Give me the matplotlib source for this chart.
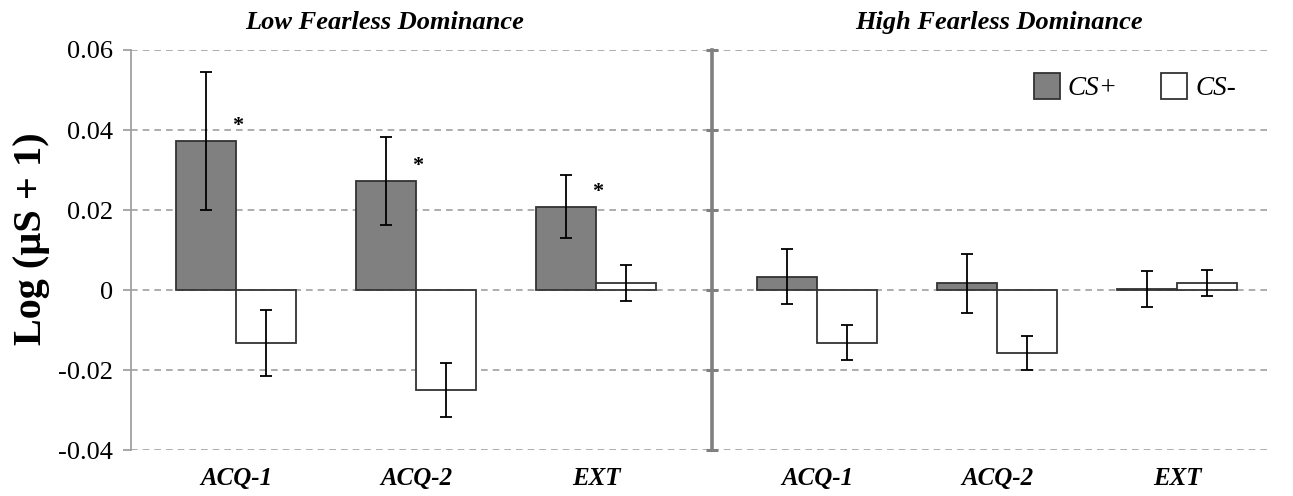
import matplotlib
matplotlib.use("Agg")
import matplotlib.pyplot as plt
from matplotlib.patches import Patch
import numpy as np

plt.rcParams['font.family'] = ['Liberation Serif', 'DejaVu Serif']

# Data
categories = ['ACQ-1', 'ACQ-2', 'EXT']
low_cs_plus = [0.0373, 0.0273, 0.0208]
low_cs_plus_err = [0.0172, 0.0110, 0.0079]
low_cs_minus = [-0.0132, -0.0250, 0.0017]
low_cs_minus_err = [0.0083, 0.0068, 0.0045]
high_cs_plus = [0.0033, 0.0017, 0.0002]
high_cs_plus_err = [0.0069, 0.0074, 0.0045]
high_cs_minus = [-0.0132, -0.0158, 0.0017]
high_cs_minus_err = [0.0044, 0.0043, 0.0032]
low_signif = [True, True, True]
y_ticks = [-0.04, -0.02, 0, 0.02, 0.04, 0.06]
y_tick_labels = ['-0.04', '-0.02', '0', '0.02', '0.04', '0.06']

fig = plt.figure(figsize=(12.93, 4.96), dpi=100)
ax1 = fig.add_axes([131 / 1293, 0.0927, 581 / 1293, 0.8065])
ax2 = fig.add_axes([712 / 1293, 0.0927, 555 / 1293, 0.8065])

grey = '#808080'
edge = '#333333'
grid_col = '#a0a0a0'
bar_w = 0.335


def draw_panel(ax, plus, plus_err, minus, minus_err, xlim):
    x = np.arange(len(categories))
    ax.bar(x - bar_w / 2, plus, bar_w, color=grey, edgecolor=edge, linewidth=1.3, zorder=3)
    ax.bar(x + bar_w / 2, minus, bar_w, color='white', edgecolor=edge, linewidth=1.3, zorder=3)
    ax.errorbar(x - bar_w / 2, plus, yerr=plus_err, fmt='none', ecolor='black',
                elinewidth=1.3, capsize=4.5, capthick=1.3, zorder=4)
    ax.errorbar(x + bar_w / 2, minus, yerr=minus_err, fmt='none', ecolor='black',
                elinewidth=1.3, capsize=4.5, capthick=1.3, zorder=4)
    ax.set_xlim(*xlim)
    ax.set_ylim(-0.04, 0.06)
    ax.set_yticks(y_ticks)
    for yv in y_ticks:
        ax.axhline(yv, color=grid_col, linestyle=(0, (4, 3)), linewidth=1.2, zorder=1)
    ax.set_xticks(x)
    ax.set_xticklabels(categories, fontsize=18, fontweight='bold', fontstyle='italic')
    ax.tick_params(axis='x', length=0, pad=12)
    for s in ['top', 'right', 'bottom']:
        ax.spines[s].set_visible(False)
    return x


x1 = draw_panel(ax1, low_cs_plus, low_cs_plus_err, low_cs_minus, low_cs_minus_err,
                (-0.583, 2.644))
x2 = draw_panel(ax2, high_cs_plus, high_cs_plus_err, high_cs_minus, high_cs_minus_err,
                (-0.583, 2.5))

ax1.set_yticklabels(y_tick_labels, fontsize=19)
ax1.spines['left'].set_color(grid_col)
ax1.spines['left'].set_linewidth(1.3)
ax1.tick_params(axis='y', length=6, width=1.3, color=grid_col, pad=7)

ax2.set_yticklabels([])
ax2.spines['left'].set_color('#808080')
ax2.spines['left'].set_linewidth(2.6)
ax2.tick_params(axis='y', direction='inout', length=9, width=2.2, color='#808080')

# significance stars
for i, sig in enumerate(low_signif):
    if sig:
        ax1.text(x1[i] + 0.01, low_cs_plus[i] + 0.0013, '*', ha='center', va='bottom',
                 fontsize=16, fontweight='bold')

ax1.text(0.437, 1.0675, 'Low Fearless Dominance', transform=ax1.transAxes, ha='center',
         va='center', fontsize=19, fontweight='bold', fontstyle='italic')
ax2.text(0.517, 1.0675, 'High Fearless Dominance', transform=ax2.transAxes, ha='center',
         va='center', fontsize=19, fontweight='bold', fontstyle='italic')

fig.text(0.024, 0.518, 'Log (µS + 1)', rotation=90, ha='center', va='center',
         fontsize=29, fontweight='bold')

handles = [Patch(facecolor=grey, edgecolor=edge, linewidth=1.3, label='CS+'),
           Patch(facecolor='white', edgecolor=edge, linewidth=1.3, label='CS-')]
ax2.legend(handles=handles, loc='center', bbox_to_anchor=(0.762, 0.907), ncol=2,
           frameon=False, handlelength=0.95, handleheight=1.1, handletextpad=0.3,
           columnspacing=1.6, prop={'family': 'Liberation Serif', 'style': 'italic', 'size': 19.5})

fig.savefig('out.png', dpi=100)
